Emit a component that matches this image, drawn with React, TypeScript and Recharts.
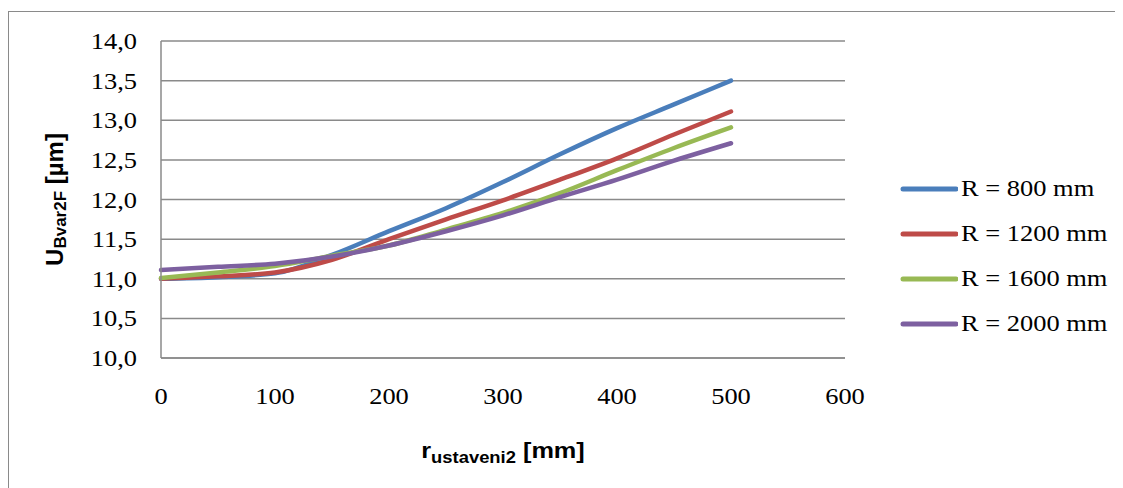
import React from "react";
import { LineChart, Line, XAxis, YAxis, CartesianGrid } from "recharts";

// ─── Data ───
const rValues = [0, 50, 100, 150, 200, 250, 300, 350, 400, 450, 500];
const r800 = [11.0, 11.02, 11.07, 11.3, 11.6, 11.89, 12.22, 12.57, 12.9, 13.2, 13.5];
const r1200 = [11.0, 11.03, 11.08, 11.24, 11.5, 11.75, 11.99, 12.25, 12.52, 12.82, 13.11];
const r1600 = [11.01, 11.08, 11.16, 11.29, 11.42, 11.62, 11.83, 12.08, 12.37, 12.65, 12.91];
const r2000 = [11.11, 11.15, 11.19, 11.28, 11.42, 11.6, 11.8, 12.03, 12.25, 12.49, 12.71];

const xTicks = [0, 100, 200, 300, 400, 500, 600];
const yTicks = [10, 10.5, 11, 11.5, 12, 12.5, 13, 13.5, 14];

const seriesNames = ["R = 800 mm", "R = 1200 mm", "R = 1600 mm", "R = 2000 mm"];
const seriesKeys = ["r800", "r1200", "r1600", "r2000"];
const seriesColors = ["#4a7ebb", "#be4b48", "#98b954", "#7d60a0"];

const rows = rValues.map((r, i) => ({
  r,
  r800: r800[i],
  r1200: r1200[i],
  r1600: r1600[i],
  r2000: r2000[i],
}));

const GRID = "#8a8a8a";
const SERIF = "'Liberation Serif', 'Times New Roman', serif";
const SANS = "'Liberation Sans', Arial, sans-serif";
// the original picture is a bit wider than tall, text included
const STRETCH = 1.15;

const fmt = (v: number) => v.toFixed(1).replace(".", ",");

// ─── Ticks (slightly widened, like the source) ───
function XTick({ x, y, payload }: any) {
  return (
    <text
      transform={`translate(${x},${y}) scale(${STRETCH},1)`}
      textAnchor="middle"
      dy="0.71em"
      fontFamily={SERIF}
      fontSize={23}
      fill="#000"
    >
      {payload.value}
    </text>
  );
}

function YTick({ x, y, payload }: any) {
  return (
    <text
      transform={`translate(${x},${y}) scale(${STRETCH},1)`}
      textAnchor="end"
      dy="0.35em"
      fontFamily={SERIF}
      fontSize={23}
      fill="#000"
    >
      {fmt(payload.value)}
    </text>
  );
}

// ─── Axis titles ───
function YTitle({ viewBox }: any) {
  const bx = 55;
  const cy = viewBox.y + viewBox.height / 2;
  return (
    <text
      transform={`translate(${bx},${cy}) rotate(-90)`}
      textAnchor="middle"
      fontFamily={SANS}
      fontWeight="bold"
      fontSize={24}
      fill="#000"
    >
      <tspan>U</tspan>
      <tspan fontSize={17} dy={3}>Bvar2F</tspan>
      <tspan dy={-3}> [µm]</tspan>
    </text>
  );
}

function XTitle({ viewBox }: any) {
  const cx = viewBox.x + viewBox.width / 2;
  return (
    <text
      transform={`translate(${cx},450) scale(${STRETCH},1)`}
      textAnchor="middle"
      fontFamily={SANS}
      fontWeight="bold"
      fontSize={22}
      fill="#000"
    >
      <tspan>r</tspan>
      <tspan fontSize={16} dy={5}>ustaveni2</tspan>
      <tspan dy={-5}> [mm]</tspan>
    </text>
  );
}

// ─── Legend (placed beside the plot) ───
function LegendBox() {
  return (
    <div style={{ position: "absolute", left: 892, top: 158 }}>
      {seriesNames.map((name, i) => (
        <div key={name} style={{ display: "flex", alignItems: "center", height: 45 }}>
          <svg width={58} height={8}>
            <line x1={3} y1={4} x2={56} y2={4} stroke={seriesColors[i]} strokeWidth={5} strokeLinecap="round" />
          </svg>
          <span
            style={{
              display: "inline-block",
              fontFamily: SERIF,
              fontSize: 23,
              color: "#000",
              marginLeft: 3,
              whiteSpace: "nowrap",
              transform: `scaleX(${STRETCH})`,
              transformOrigin: "left center",
            }}
          >
            {name}
          </span>
        </div>
      ))}
    </div>
  );
}

export default function App() {
  return (
    <div style={{ position: "relative", width: 1115, height: 480, overflow: "hidden" }}>
      <div
        style={{
          position: "absolute",
          left: 0,
          top: 3,
          width: 1130,
          height: 500,
          border: "1.5px solid #8a8a8a",
          boxSizing: "border-box",
        }}
      />
      <div style={{ position: "absolute", left: 0, top: 0 }}>
        <LineChart width={1115} height={480} data={rows} margin={{ top: 33, right: 278, bottom: 95, left: 93 }}>
          <CartesianGrid vertical={false} stroke={GRID} strokeWidth={1.5} />
          <XAxis
            dataKey="r"
            type="number"
            domain={[0, 600]}
            ticks={xTicks}
            interval={0}
            height={35}
            stroke={GRID}
            strokeWidth={1.5}
            tickLine={false}
            tickMargin={24}
            tick={<XTick />}
            label={{ content: <XTitle /> }}
          />
          <YAxis
            type="number"
            domain={[10, 14]}
            ticks={yTicks}
            interval={0}
            width={60}
            stroke={GRID}
            strokeWidth={1.5}
            tickLine={false}
            tickMargin={18}
            tick={<YTick />}
            label={{ content: <YTitle /> }}
          />
          {seriesKeys.map((k, i) => (
            <Line
              key={k}
              dataKey={k}
              name={seriesNames[i]}
              type="monotone"
              stroke={seriesColors[i]}
              strokeWidth={4.5}
              strokeLinecap="round"
              dot={false}
              activeDot={false}
              isAnimationActive={false}
            />
          ))}
        </LineChart>
      </div>
      <LegendBox />
    </div>
  );
}
